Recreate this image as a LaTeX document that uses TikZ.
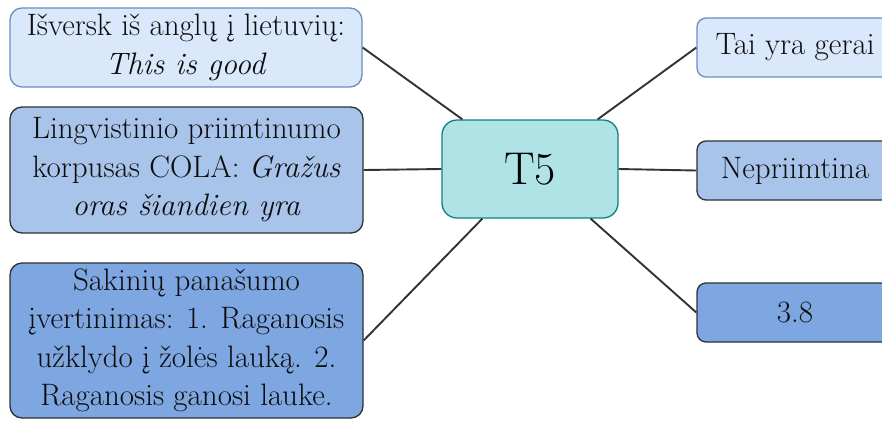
\documentclass[tikz,border=0pt]{standalone}
\usepackage{fontspec}
\begin{document}
\begin{tikzpicture}[x=1pt,y=-1pt,
  base/.style={rounded corners=12pt, line width=1.3pt, align=center, inner sep=0pt,
    font=\rmfamily\fontsize{31}{38.5}\selectfont, text=black!95},
  lightbox/.style={base, fill=lightfill, draw=lightline},
  midbox/.style={base, fill=midfill, draw=darkline},
  deepbox/.style={base, fill=deepfill, draw=darkline},
  hub/.style={rounded corners=15pt, line width=1.3pt, fill=hubfill, draw=hubline,
    font=\rmfamily\fontsize{46}{50}\selectfont, text=black, inner sep=0pt},
  link/.style={draw=linkcol, line width=1.9pt}]
\definecolor{lightfill}{HTML}{DAE8FC}
\definecolor{lightline}{HTML}{6C8EBF}
\definecolor{midfill}{HTML}{A9C4EB}
\definecolor{deepfill}{HTML}{7EA6E0}
\definecolor{darkline}{HTML}{2E3033}
\definecolor{hubfill}{HTML}{B0E3E6}
\definecolor{hubline}{HTML}{0E8088}
\definecolor{linkcol}{HTML}{333333}

\clip (0,0) rectangle (882,421);

% central node
\node[hub, minimum width=176pt, minimum height=98pt] (t5) at (530,169) {T5};

% task prompts on the left
\node[lightbox, minimum width=352pt, minimum height=79pt] (b1) at (186,47.5)
  {Išversk iš anglų į lietuvių:\\\textit{This is good}};
\node[midbox, minimum width=353pt, minimum height=126pt] (b2) at (186.5,170)
  {Lingvistinio priimtinumo\\korpusas COLA: \textit{Gražus}\\\textit{oras šiandien yra}};
\node[deepbox, minimum width=353pt, minimum height=155pt] (b3) at (186.5,340.5)
  {Sakinių panašumo\\įvertinimas: 1. Raganosis\\užklydo į žolės lauką. 2.\\Raganosis ganosi lauke.};

% answers on the right
\node[lightbox, rounded corners=9pt, minimum width=196pt, minimum height=59pt] (r1) at (795,47.5) {Tai yra gerai};
\node[midbox, rounded corners=9pt, minimum width=196pt, minimum height=59pt] (r2) at (795,170.5) {Nepriimtina};
\node[deepbox, rounded corners=9pt, minimum width=196pt, minimum height=59pt] (r3) at (795,312.5) {3.8};

% connectors
\draw[link] (b1.east) -- ([xshift=21pt]t5.north west);
\draw[link] (b2.east) -- (t5.west);
\draw[link] (b3.east) -- ([xshift=41pt]t5.south west);
\draw[link] ([xshift=-21pt]t5.north east) -- (r1.west);
\draw[link] (t5.east) -- (r2.west);
\draw[link] ([xshift=-28pt]t5.south east) -- (r3.west);
\end{tikzpicture}
\end{document}
